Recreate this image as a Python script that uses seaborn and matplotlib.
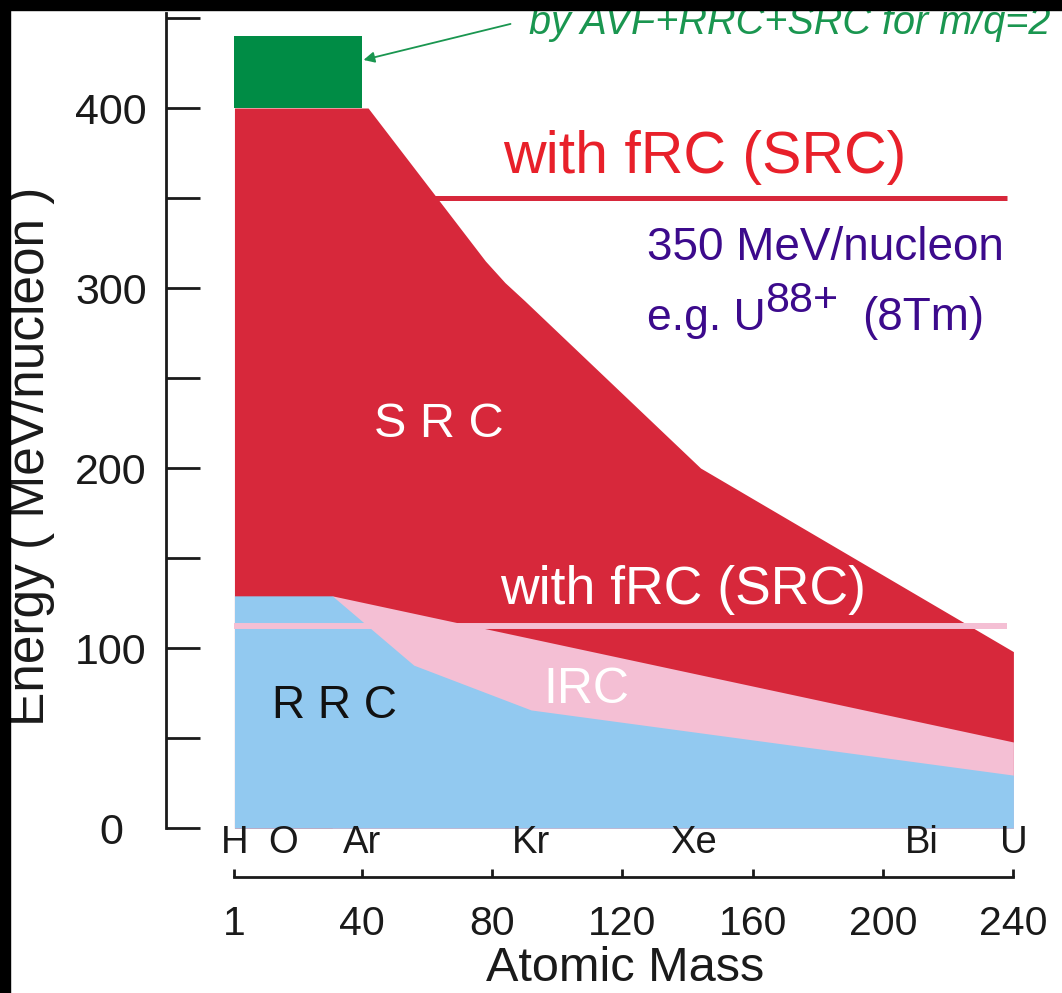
import numpy as np
import matplotlib
matplotlib.use("Agg")
import matplotlib.pyplot as plt
from matplotlib.patches import Rectangle
import seaborn as sns

# ---------------- data ----------------
# SRC upper limit (MeV/nucleon) vs atomic mass
src_mass = [1, 42, 78, 84, 90, 144, 240]
src_energy = [400, 400, 315, 303, 293, 200, 98]
# IRC upper limit
irc_mass = [31, 240]
irc_energy = [129, 47.8]
# RRC upper limit
rrc_mass = [1, 31, 56, 92, 240]
rrc_energy = [129, 129, 90.5, 65.6, 29.4]
# AVF+RRC+SRC (m/q=2) extra band
avf_mass = [1, 40]
avf_low = [400, 400]
avf_high = [440, 440]
# horizontal reference lines
frc_src_mass = [62, 238]
frc_src_energy = [350, 350]
frc_irc_mass = [1, 238]
frc_irc_energy = [112, 112]

y_ticks = [0, 50, 100, 150, 200, 250, 300, 350, 400, 450]
y_ticklabels = ["0", "", "100", "", "200", "", "300", "", "400", ""]
x_ticks = [1, 40, 80, 120, 160, 200, 240]
x_ticklabels = ["1", "40", "80", "120", "160", "200", "240"]
elements = ["H", "O", "Ar", "Kr", "Xe", "Bi", "U"]
element_pos = [1, 16, 40, 92, 142, 212, 240]

# ---------------- style ----------------
sns.set_style("white")
plt.rcParams["font.family"] = ["Liberation Sans", "DejaVu Sans"]

C_RED = "#d7283b"
C_BLUE = "#92c9f0"
C_PINK = "#f4bfd4"
C_GREEN = "#008c45"
C_AXIS = "#1a1a1a"

W, H = 1062, 993
fig = plt.figure(figsize=(W / 100, H / 100), dpi=100, facecolor="white")
ax = fig.add_axes([166 / W, (H - 877) / H, 880 / W, 877 / H])
ax.set_facecolor("white")
ax.set_xlim(-20, 250)
ax.set_ylim(-27.2, 460)

# ---------------- areas ----------------
ax.fill_between(src_mass, src_energy, 0, color=C_RED, lw=0, zorder=1)
ax.fill_between(irc_mass, irc_energy, 0, color=C_PINK, lw=0, zorder=2)
ax.fill_between(rrc_mass, rrc_energy, 0, color=C_BLUE, lw=0, zorder=3)
ax.fill_between(avf_mass, avf_low, avf_high, color=C_GREEN, lw=0, zorder=1)

# ---------------- lines ----------------
sns.lineplot(x=frc_irc_mass, y=frc_irc_energy, ax=ax, color=C_PINK, lw=4.3,
             zorder=4, solid_capstyle="butt")
sns.lineplot(x=frc_src_mass, y=frc_src_energy, ax=ax, color=C_RED, lw=3.6,
             zorder=4, solid_capstyle="butt")

# ---------------- axes ----------------
for s in ["top", "right"]:
    ax.spines[s].set_visible(False)
for s in ["left", "bottom"]:
    ax.spines[s].set_linewidth(2.0)
    ax.spines[s].set_color(C_AXIS)
ax.spines["left"].set_bounds(0, 453)
ax.spines["bottom"].set_bounds(1, 240)

ax.set_yticks(y_ticks)
ax.set_yticklabels(y_ticklabels)
ax.tick_params(axis="y", which="major", left=True, direction="in", length=24.5,
               width=2.0, color=C_AXIS, labelsize=31, pad=39.6, labelcolor=C_AXIS)
for lab in ax.get_yticklabels():
    lab.set_horizontalalignment("center")

ax.set_xticks(x_ticks)
ax.set_xticklabels(x_ticklabels)
ax.tick_params(axis="x", which="major", bottom=True, direction="in", length=6,
               width=2.0, color=C_AXIS, labelsize=29.5, pad=20, labelcolor=C_AXIS)

ax.set_ylabel("Energy ( MeV/nucleon )", fontsize=37, color=C_AXIS)
ax.yaxis.set_label_coords(-0.126, 0.48)
ax.set_xlabel("Atomic Mass", fontsize=35, color=C_AXIS)
ax.xaxis.set_label_coords(0.5216, -0.079)

for el, xp in zip(elements, element_pos):
    ax.text(xp, -13.9, el, ha="center", va="baseline", fontsize=27.5,
            color=C_AXIS, zorder=6)

# ---------------- annotations ----------------
ax.text(91.5, 441, "by AVF+RRC+SRC for m/q=2", fontsize=28.5, style="italic",
        color="#1a9650", ha="left", va="baseline", zorder=6)
ax.annotate("", xy=(40.6, 426.7), xytext=(85.7, 446.7),
            arrowprops=dict(arrowstyle="-|>", color="#1a9650", lw=1.3,
                            mutation_scale=16, shrinkA=0, shrinkB=0), zorder=6)

ax.text(83.4, 363.9, "with fRC (SRC)", fontsize=42.5, color="#e8202a",
        ha="left", va="baseline", zorder=6)
C_PURPLE = "#3c0a8c"
ax.text(127.7, 315.6, "350 MeV/nucleon", fontsize=33, color=C_PURPLE,
        ha="left", va="baseline", zorder=6)
ax.text(127.7, 276.7, "e.g. U", fontsize=32, color=C_PURPLE,
        ha="left", va="baseline", zorder=6)
ax.text(163.9, 286.7, "88+", fontsize=31, color=C_PURPLE,
        ha="left", va="baseline", zorder=6)
ax.text(193.6, 276.7, "(8Tm)", fontsize=33, color=C_PURPLE,
        ha="left", va="baseline", zorder=6)

ax.text(63.6, 217, "S R C", fontsize=35, color="white", ha="center",
        va="baseline", zorder=6)
ax.text(82.6, 124.4, "with fRC (SRC)", fontsize=38.5, color="white",
        ha="left", va="baseline", zorder=6)
ax.text(95.8, 69.4, "IRC", fontsize=36, color="white", ha="left",
        va="baseline", zorder=6)
ax.text(31.7, 61, "R R C", fontsize=33, color="#111111", ha="center",
        va="baseline", zorder=6)

# ---------------- black frame edges ----------------
fig.add_artist(Rectangle((0, 1 - 10 / H), 1, 10 / H, transform=fig.transFigure,
                         color="black", zorder=100))
fig.add_artist(Rectangle((0, 0), 10 / W, 1, transform=fig.transFigure,
                         color="black", zorder=100))

fig.savefig("out.png", dpi=100, facecolor="white")
